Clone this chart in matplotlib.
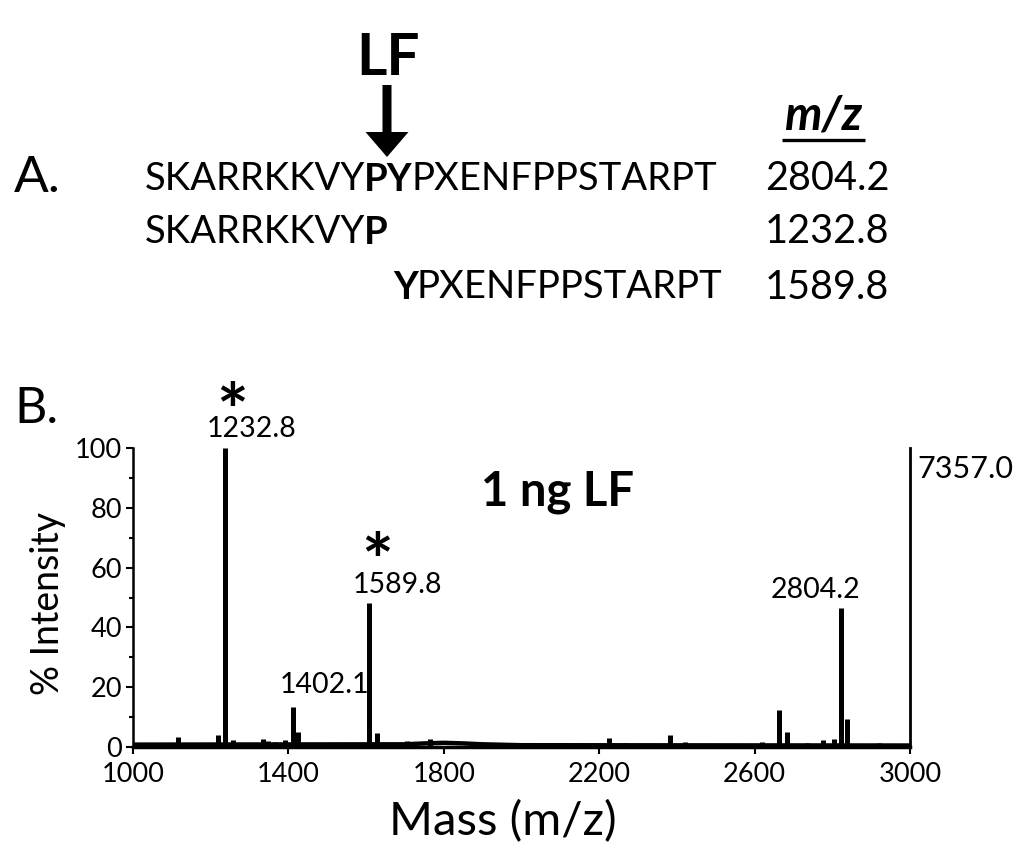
import matplotlib
matplotlib.use("Agg")
import matplotlib.pyplot as plt
from matplotlib.patches import FancyArrow

plt.rcParams['font.family'] = ['Lato', 'DejaVu Sans']

# ---------------- data ----------------
peak_mz = [1018, 1068, 1095, 1117, 1147, 1191, 1220, 1237, 1258, 1335, 1348, 1365,
           1391, 1412, 1424, 1443, 1498, 1563, 1608, 1627, 1636, 1706, 1765,
           2096, 2226, 2237, 2267, 2336, 2381, 2421, 2439, 2469, 2619, 2664, 2683,
           2736, 2777, 2805, 2822, 2838, 2919, 2941]
peak_int = [1.2, 1.5, 1.3, 3.2, 1.0, 1.3, 3.9, 100, 2.3, 2.7, 2.0, 1.8,
            2.3, 13.5, 5.0, 1.0, 1.2, 0.8, 48.2, 4.7, 1.2, 2.0, 2.6,
            1.0, 3.1, 1.5, 1.5, 0.8, 3.9, 1.8, 1.0, 0.8, 1.8, 12.5, 5.0,
            1.5, 2.2, 2.8, 46.6, 9.2, 1.3, 0.8]
base_mz = [1000, 1700, 1750, 1800, 1850, 1900, 2000, 3000]
base_int = [0.8, 0.9, 1.2, 1.4, 1.2, 0.9, 0.6, 0.5]

label_text = ["1232.8", "1402.1", "1589.8", "2804.2"]
label_mz = [1306, 1492, 1682, 2756]
label_int = [103.8, 18.1, 51.5, 49.7]
star_mz = [1254, 1628]
star_int = [103.6, 53.6]

xticks = [1000, 1400, 1800, 2200, 2600, 3000]
yticks = [0, 20, 40, 60, 80, 100]
yminor = [10, 30, 50, 70, 90]

seq_rows = [
    [("SKARRKKVY", "normal"), ("PY", "bold"), ("PXENFPPSTARPT", "normal")],
    [("SKARRKKVY", "normal"), ("P", "bold")],
    [("Y", "bold"), ("PXENFPPSTARPT", "normal")],
]
seq_mz = ["2804.2", "1232.8", "1589.8"]

# ---------------- figure ----------------
W, H = 1024, 859
fig = plt.figure(figsize=(W / 100, H / 100), dpi=100)
ax = fig.add_axes([133 / W, 1 - 747 / H, 777 / W, 299 / H])
ov = fig.add_axes([0, 0, 1, 1], zorder=5)
ov.set_xlim(0, W)
ov.set_ylim(H, 0)
ov.axis('off')
ov.patch.set_visible(False)

# ---- panel A ----
SEQ_FS = 27.5
row_x = [145, 145, 393]
row_y = [190, 243, 299]
for parts, x0, y0, mz in zip(seq_rows, row_x, row_y, seq_mz):
    t = ov.text(x0, y0, parts[0][0], fontsize=SEQ_FS, fontweight=parts[0][1],
                ha='left', va='baseline')
    for s, w in parts[1:]:
        t = ov.annotate(s, xy=(1, 0), xycoords=t, xytext=(-0.8, 0),
                        textcoords='offset points', fontsize=SEQ_FS, fontweight=w,
                        ha='left', va='bottom')
    ov.text(765, y0, mz, fontsize=28.5, ha='left', va='baseline')

ov.text(14, 192, "A.", fontsize=37, ha='left', va='baseline')
ov.text(388, 75, "LF", fontsize=42, fontweight='bold', ha='center', va='baseline')
ov.add_patch(FancyArrow(387, 85, 0, 72, width=9, head_width=43, head_length=25,
                        length_includes_head=True, color='black', lw=0))
ov.text(823, 130, "m/z", fontsize=34, fontweight='bold', fontstyle='italic',
        ha='center', va='baseline')
ov.plot([782, 865], [140, 140], color='black', lw=2.4, solid_capstyle='butt')

# ---- panel B ----
ov.text(14, 423, "B.", fontsize=36, ha='left', va='baseline')

ax.plot(base_mz, base_int, color='black', lw=3.2, solid_capstyle='butt', zorder=3)
ax.vlines(peak_mz, 0, peak_int, color='black', lw=3.6, capstyle='butt', zorder=3)

ax.set_xlim(1000, 3000)
ax.set_ylim(0, 100)
ax.set_xticks(xticks)
ax.set_yticks(yticks)
ax.set_yticks(yminor, minor=True)
ax.tick_params(axis='both', which='major', direction='out', length=5, width=1.5,
               labelsize=19.5, color='black')
ax.tick_params(axis='x', which='major', pad=5.5)
ax.tick_params(axis='y', which='major', pad=3)
ax.tick_params(axis='y', which='minor', direction='out', length=3, width=1.5)
ax.spines['top'].set_visible(False)
ax.spines['left'].set_linewidth(1.8)
ax.spines['right'].set_linewidth(2)
ax.spines['bottom'].set_linewidth(2.5)
ax.patch.set_visible(False)

ax.set_ylabel("% Intensity", fontsize=27)
ax.yaxis.set_label_coords(-0.086, 0.48)
ax.set_xlabel("Mass (m/z)", fontsize=34, va='baseline')
ax.xaxis.set_label_coords(0.476, -0.295)

for s, x, y in zip(label_text, label_mz, label_int):
    ax.text(x, y, s, fontsize=20.5, ha='center', va='baseline', clip_on=False)
for x, y in zip(star_mz, star_int):
    ax.text(x, y, "*", fontsize=54, fontweight='bold', ha='center', va='baseline',
            clip_on=False)

ax.text(2094, 80.9, "1 ng LF", fontsize=34, fontweight='bold', ha='center',
        va='baseline')
ax.text(1.009, 0.9, "7357.0", transform=ax.transAxes, fontsize=22, ha='left',
        va='baseline')

fig.savefig("out.png", dpi=100)
